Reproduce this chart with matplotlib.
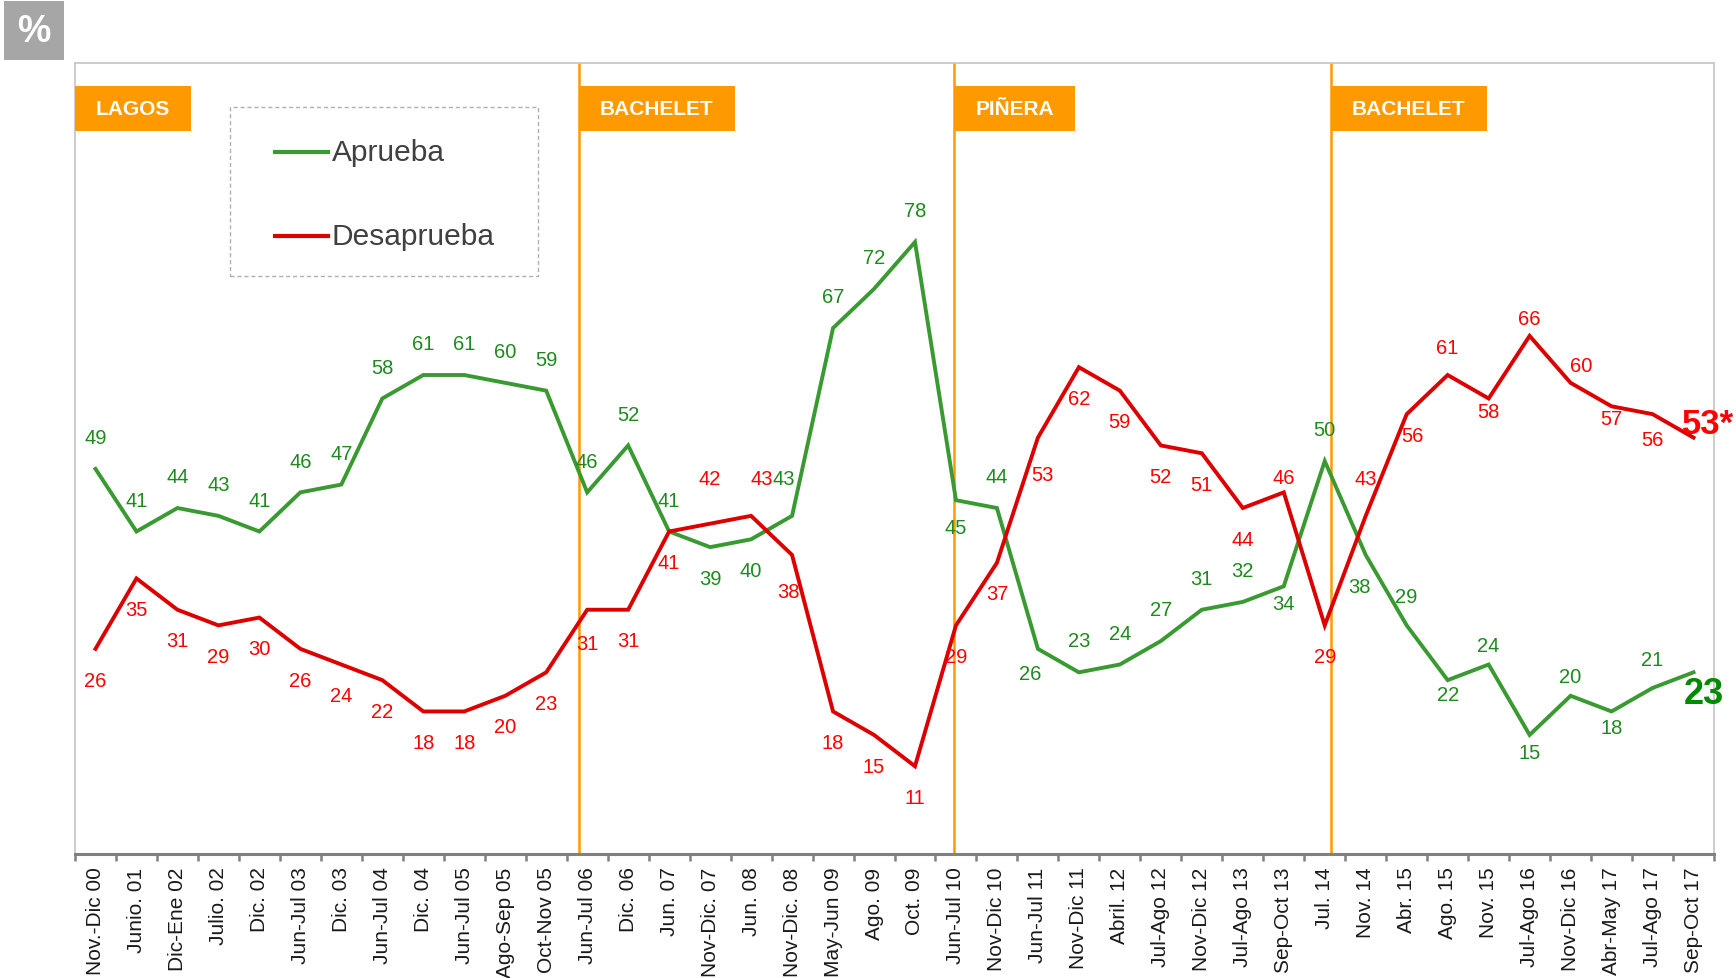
import matplotlib
matplotlib.use("Agg")
import matplotlib.pyplot as plt
from matplotlib.patches import Rectangle
from matplotlib.lines import Line2D

plt.rcParams['font.family'] = ['Liberation Sans', 'DejaVu Sans']

# ---------------------------------------------------------------- data
periodos = [
    "Nov.-Dic 00", "Junio. 01", "Dic-Ene 02", "Julio. 02", "Dic. 02",
    "Jun-Jul 03", "Dic. 03", "Jun-Jul 04", "Dic. 04", "Jun-Jul 05",
    "Ago-Sep 05", "Oct-Nov 05", "Jun-Jul 06", "Dic. 06", "Jun. 07",
    "Nov-Dic. 07", "Jun. 08", "Nov-Dic. 08", "May-Jun 09", "Ago. 09",
    "Oct. 09", "Jun-Jul 10", "Nov-Dic 10", "Jun-Jul 11", "Nov-Dic 11",
    "Abril. 12", "Jul-Ago 12", "Nov-Dic 12", "Jul-Ago 13", "Sep-Oct 13",
    "Jul. 14", "Nov. 14", "Abr. 15", "Ago. 15", "Nov. 15",
    "Jul-Ago 16", "Nov-Dic 16", "Abr-May 17", "Jul-Ago 17", "Sep-Oct 17",
]

aprueba = [49, 41, 44, 43, 41, 46, 47, 58, 61, 61, 60, 59, 46, 52, 41,
           39, 40, 43, 67, 72, 78, 45, 44, 26, 23, 24, 27, 31, 32, 34,
           50, 38, 29, 22, 24, 15, 20, 18, 21, 23]

desaprueba = [26, 35, 31, 29, 30, 26, 24, 22, 18, 18, 20, 23, 31, 31, 41,
              42, 43, 38, 18, 15, 11, 29, 37, 53, 62, 59, 52, 51, 44, 46,
              29, 43, 56, 61, 58, 66, 60, 57, 56, 53]

ultimo_aprueba = "23"
ultimo_desaprueba = "53*"

gobiernos = ["LAGOS", "BACHELET", "PIÑERA", "BACHELET"]
inicio_gobierno = [0, 12, 21, 30]   # index of the first survey of each term

# ------------------------------------------------------------- styling
# value-label placement: +1 above the point, -1 below it, 0 = no small label
pos_aprueba = [1, 1, 1, 1, 1, 1, 1, 1, 1, 1, 1, 1, 1, 1, 1,
               -1, -1, 1, 1, 1, 1, -1, 1, -1, 1, 1, 1, 1, 1, -1,
               1, -1, 1, -1, 1, -1, 1, -1, 1, 0]
pos_desaprueba = [-1, -1, -1, -1, -1, -1, -1, -1, -1, -1, -1, -1, -1, -1, -1,
                  1, 1, -1, -1, -1, -1, -1, -1, -1, -1, -1, -1, -1, -1, 1,
                  -1, 1, -1, 1, -1, 1, 1, -1, -1, 0]
OFF_ARRIBA, OFF_ABAJO = 21.0, 24.0          # label distance in points
SUBIR = 3.0                                 # common upward nudge, points
# per-label distance overrides (points) and horizontal nudges (category units)
off_aprueba = {21: 21.5, 23: 19, 29: 14, 33: 12, 34: 12, 35: 14, 36: 12,
               37: 13, 38: 19, 17: 25, 32: 19}
off_desaprueba = {12: 26, 15: 31, 16: 25, 17: 28, 23: 28, 29: 9, 31: 25,
                  32: 17, 33: 18, 34: 11, 35: 11, 36: 11, 37: 10, 38: 20}
dx_aprueba = {17: -0.2, 23: -0.2, 31: -0.15}
dx_desaprueba = {16: 0.25, 17: -0.1, 23: 0.1, 32: 0.15, 36: 0.25}
linea_shift = [0, -0.2, -0.04, 0.15]
caja_ancho = [2.84, 3.81, 2.95, 3.81]

VERDE = "#3a9a32"
VERDE_TXT = "#1e8a1e"
ROJO = "#dd0000"
ROJO_TXT = "#ff0000"
NARANJA = "#ff9900"

W, H = 1736, 979
fig = plt.figure(figsize=(W / 100, H / 100), dpi=100)
fig.patch.set_facecolor("white")


def fx(px):
    return px / W


def fy(py):
    return 1 - py / H


ax = fig.add_axes([fx(75), fy(855), fx(1714) - fx(75), fy(64) - fy(855)])

n = len(periodos)
x = [i + 0.5 for i in range(n)]

l_ap, = ax.plot(x, aprueba, color=VERDE, lw=2.8, solid_joinstyle="miter", zorder=3)
l_de, = ax.plot(x, desaprueba, color=ROJO, lw=2.8, solid_joinstyle="miter", zorder=3)

ax.set_xlim(0, n)
ax.set_ylim(-0.22, 100.88)


def etiquetas(valores, pos, offs, dxs, color):
    for i, v in enumerate(valores):
        if pos[i] == 0:
            continue
        d = offs.get(i, OFF_ARRIBA if pos[i] > 0 else OFF_ABAJO)
        ax.annotate(str(v), (x[i] + dxs.get(i, 0), v),
                    xytext=(0, d * pos[i] + SUBIR), textcoords="offset points",
                    ha="center", va="center_baseline", fontsize=14.5,
                    color=color, zorder=4)


etiquetas(aprueba, pos_aprueba, off_aprueba, dx_aprueba, VERDE_TXT)
etiquetas(desaprueba, pos_desaprueba, off_desaprueba, dx_desaprueba, ROJO_TXT)

# latest values, highlighted
ax.annotate(ultimo_desaprueba, (x[-1], desaprueba[-1]), xytext=(-8, 10),
            textcoords="offset points", ha="left", va="center",
            fontsize=25, fontweight="bold", color=ROJO_TXT,
            annotation_clip=False, zorder=5)
ax.annotate(ultimo_aprueba, (x[-1], aprueba[-1]), xytext=(-7, -15),
            textcoords="offset points", ha="left", va="center",
            fontsize=26, fontweight="bold", color="#008a00",
            annotation_clip=False, zorder=5)

# term separators and headers
for k, (nombre, ini) in enumerate(zip(gobiernos, inicio_gobierno)):
    x0 = ini + 0.5 + linea_shift[k] if k > 0 else 0
    if k > 0:
        ax.axvline(x0, color=NARANJA, lw=1.8, zorder=2)
    ax.add_patch(Rectangle((x0, 0.9146), caja_ancho[k], 0.9706 - 0.9146,
                           transform=ax.get_xaxis_transform(),
                           facecolor=NARANJA, edgecolor="none", zorder=4,
                           clip_on=False))
    ax.text(x0 + 0.51, (0.9146 + 0.9706) / 2, nombre,
            transform=ax.get_xaxis_transform(), ha="left", va="center",
            fontsize=15, fontweight="bold", color="white", zorder=5)

# frame
for s in ("left", "top", "right"):
    ax.spines[s].set_color("#c8c8c8")
    ax.spines[s].set_linewidth(1.3)
ax.spines["bottom"].set_color("#808080")
ax.spines["bottom"].set_linewidth(2.2)

ax.set_yticks([])
ax.set_xticks(range(n + 1))
ax.set_xticklabels([])
ax.tick_params(axis="x", which="major", length=5, width=1.8, color="#808080",
               direction="out")
ax.set_xticks(x, minor=True)
ax.set_xticklabels(periodos, minor=True, rotation=90, fontsize=15,
                   color="#1a1a1a", va="top", ha="center")
ax.tick_params(axis="x", which="minor", length=0, pad=9)

# legend box
fig.patches.append(Rectangle((fx(230), fy(277)), fx(538) - fx(230), fy(108) - fy(277),
                             transform=fig.transFigure, facecolor="white",
                             edgecolor="#b0b0b0", lw=1.0, ls=(0, (3, 2)),
                             zorder=6))
for ln, lab, yy in ((l_ap, "Aprueba", 153), (l_de, "Desaprueba", 237)):
    fig.lines.append(Line2D([fx(275), fx(328)], [fy(yy), fy(yy)],
                            transform=fig.transFigure, color=ln.get_color(),
                            lw=3.0, zorder=7))
    fig.text(fx(332), fy(yy), lab, ha="left", va="center", fontsize=21.5,
             color="#404040", zorder=7)

# "%" tag
fig.patches.append(Rectangle((fx(4), fy(61)), fx(64) - fx(4), fy(2) - fy(61),
                             transform=fig.transFigure, facecolor="#a6a6a6",
                             edgecolor="none", zorder=6))
fig.text(fx(34), fy(32), "%", ha="center", va="center", fontsize=27,
         fontweight="bold", color="white", zorder=7)

fig.savefig("out.png", dpi=100)
